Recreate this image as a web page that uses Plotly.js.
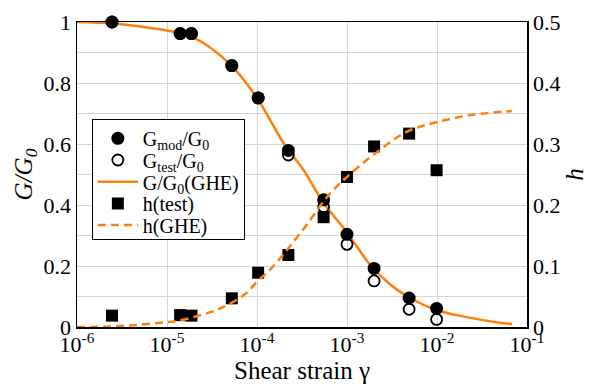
<!DOCTYPE html>
<html>
<head>
<meta charset="utf-8">
<script src="https://cdn.plot.ly/plotly-3.0.1.min.js"></script>
<style>html,body{margin:0;padding:0;background:#fff;}#chart{width:593px;height:387px;}</style>
</head>
<body>
<div id="chart"></div>
<script>
// Test strains
const strainTest = [2.45e-6, 1.40e-5, 1.87e-5, 5.25e-5, 1.03e-4, 2.23e-4, 5.5e-4, 1.0e-3, 2.0e-3, 4.9e-3, 9.9e-3];
const gMod  = [1.0, 0.962, 0.962, 0.857, 0.751, 0.579, 0.417, 0.304, 0.192, 0.095, 0.061];
const gTest = [1.0, 0.962, 0.962, 0.857, 0.751, 0.564, 0.394, 0.271, 0.151, 0.058, 0.025];
const hTest = [0.0186, 0.0195, 0.0186, 0.047, 0.089, 0.118, 0.180, 0.246, 0.296, 0.317, 0.257];

// GHE model curves
const strainG = [1e-6, 2.5e-6, 5e-6, 1e-5, 2e-5, 5e-5, 1e-4, 2e-4, 3.3e-4, 5.4e-4, 1e-3, 1.8e-3, 3e-3, 5e-3, 1e-2, 2e-2, 5e-2, 6.8e-2];
const gGHE    = [1.0, 0.995, 0.985, 0.972, 0.948, 0.862, 0.751, 0.600, 0.514, 0.410, 0.310, 0.205, 0.140, 0.095, 0.055, 0.034, 0.014, 0.010];
const strainH = [1e-6, 2e-6, 4.2e-6, 8.4e-6, 1.3e-5, 3e-5, 4.25e-5, 7.1e-5, 1e-4, 1.5e-4, 3e-4, 6.5e-4, 1e-3, 2e-3, 4.6e-3, 1e-2, 2.5e-2, 6.8e-2];
const hGHE    = [0.0, 0.0005, 0.003, 0.007, 0.010, 0.024, 0.033, 0.052, 0.074, 0.099, 0.153, 0.219, 0.246, 0.283, 0.320, 0.336, 0.348, 0.354];

const xTickVals = [1e-6, 1e-5, 1e-4, 1e-3, 1e-2, 1e-1];
const xTickText = ['10<sup>-6</sup>', '10<sup>-5</sup>', '10<sup>-4</sup>', '10<sup>-3</sup>', '10<sup>-2</sup>', '10<sup>-1</sup>'];
const yTickVals = [0, 0.2, 0.4, 0.6, 0.8, 1];
const yTickText = ['0', '0.2', '0.4', '0.6', '0.8', '1'];
const y2TickVals = [0, 0.1, 0.2, 0.3, 0.4, 0.5];
const y2TickText = ['0', '0.1', '0.2', '0.3', '0.4', '0.5'];

const ORANGE = '#ff7f0e';
const FONT = 'Liberation Serif, Times New Roman, serif';

const traces = [
  {x: strainG, y: gGHE, type: 'scatter', mode: 'lines', name: 'G/G<sub>0</sub>(GHE)',
   line: {color: ORANGE, width: 2.5, shape: 'spline'}, legendrank: 3},
  {x: strainTest, y: gTest, type: 'scatter', mode: 'markers', name: 'G<sub>test</sub>/G<sub>0</sub>',
   marker: {symbol: 'circle-open', size: 11, color: '#000', line: {width: 1.8, color: '#000'}}, cliponaxis: false, legendrank: 2},
  {x: strainTest, y: gMod, type: 'scatter', mode: 'markers', name: 'G<sub>mod</sub>/G<sub>0</sub>',
   marker: {symbol: 'circle', size: 13, color: '#000'}, cliponaxis: false, legendrank: 1},
  {x: strainTest, y: hTest, type: 'scatter', mode: 'markers', name: 'h(test)', yaxis: 'y2',
   marker: {symbol: 'square', size: 12, color: '#000'}, cliponaxis: false, legendrank: 4},
  {x: strainH, y: hGHE, type: 'scatter', mode: 'lines', name: 'h(GHE)', yaxis: 'y2',
   line: {color: ORANGE, width: 2.5, dash: '8px,5px', shape: 'spline'}, cliponaxis: false, legendrank: 5}
];

const layout = {
  width: 593, height: 387,
  margin: {l: 77, r: 66, t: 22, b: 60},
  paper_bgcolor: '#fff', plot_bgcolor: '#fff',
  font: {family: FONT, color: '#000', size: 20},
  showlegend: true,
  legend: {x: 0.033, y: 0.681, xanchor: 'left', yanchor: 'top',
           bgcolor: '#fff', bordercolor: '#000', borderwidth: 1,
           font: {family: FONT, size: 20, color: '#000'}, itemwidth: 40, tracegroupgap: 0},
  xaxis: {type: 'log', range: [-6, -1], tickvals: xTickVals, ticktext: xTickText,
          showgrid: true, gridcolor: '#d4d4d4', gridwidth: 1,
          showline: true, linecolor: '#000', linewidth: 1.5, mirror: true,
          ticks: '', zeroline: false, ticklabelstandoff: -3,
          tickfont: {family: FONT, size: 22},
          title: {text: 'Shear strain γ', font: {family: FONT, size: 25}, standoff: 4}},
  yaxis: {range: [0, 1], tickvals: yTickVals, ticktext: yTickText,
          showgrid: true, gridcolor: '#d4d4d4', gridwidth: 1,
          minor: {dtick: 0.1, showgrid: true, gridcolor: '#d4d4d4', gridwidth: 1, ticks: ''},
          showline: true, linecolor: '#000', linewidth: 1.5, mirror: true,
          ticks: '', zeroline: false,
          tickfont: {family: FONT, size: 22},
          title: {text: '<i>G/G<sub>0</sub></i>', font: {family: FONT, size: 25}, standoff: 4}},
  yaxis2: {overlaying: 'y', side: 'right', range: [0, 0.5], tickvals: y2TickVals, ticktext: y2TickText,
           showgrid: false, showline: true, linecolor: '#000', linewidth: 1.5,
           ticks: '', zeroline: false,
           tickfont: {family: FONT, size: 22},
           title: {text: '<i>h</i>', font: {family: FONT, size: 25}, standoff: 6}}
};

// compact legend rows (reference uses tighter line spacing than Plotly's default)
const LEGEND_FIRST_ROW = 19, LEGEND_ROW_STEP = 21.7, LEGEND_BOX_H = 120;

Plotly.newPlot('chart', traces, layout, {displayModeBar: false, staticPlot: true}).then(gd => {
  const leg = gd.querySelector('.legend');
  if (!leg) return;
  const items = leg.querySelectorAll('.traces');
  items.forEach((it, i) => {
    const m = /translate\(\s*([-\d.e]+)[ ,]+([-\d.e]+)\s*\)/.exec(it.getAttribute('transform') || '');
    const tx = m ? m[1] : 1;
    it.setAttribute('transform', 'translate(' + tx + ',' + (LEGEND_FIRST_ROW + i * LEGEND_ROW_STEP) + ')');
  });
  const bg = leg.querySelector('.bg');
  if (bg) bg.setAttribute('height', LEGEND_BOX_H);
});
</script>
</body>
</html>
